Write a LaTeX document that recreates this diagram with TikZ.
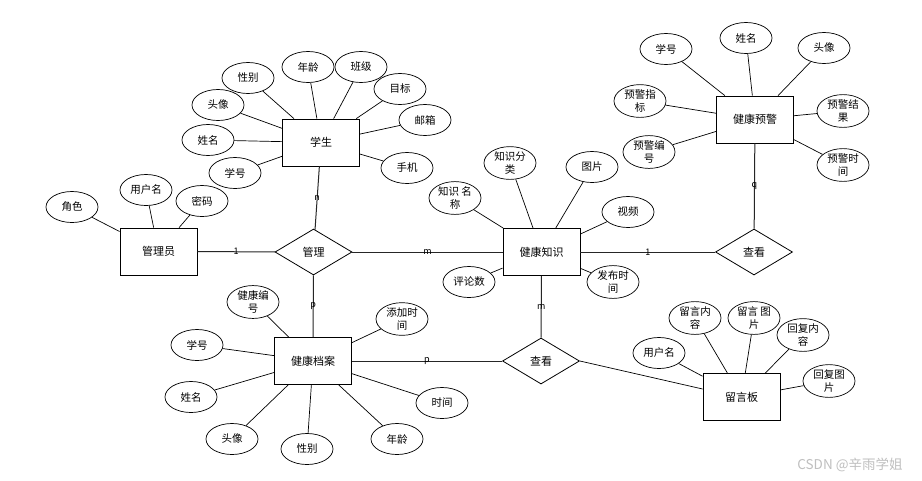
\documentclass[tikz,border=0pt]{standalone}
\usepackage{fontspec}
\setmainfont{Noto Sans CJK SC}
\usetikzlibrary{shapes.geometric}
\tikzset{
  ent/.style={draw, line width=0.8pt, rectangle, minimum width=77pt, minimum height=47pt, inner sep=0pt, font=\fontsize{11}{12}\selectfont},
  rel/.style={draw, line width=0.8pt, diamond, minimum width=77pt, minimum height=46pt, inner sep=0pt, font=\fontsize{11}{12}\selectfont},
  att/.style={draw, line width=0.7pt, ellipse, minimum width=52pt, minimum height=31pt, inner sep=0pt, align=center, font=\fontsize{10.5}{13.5}\selectfont},
  al/.style={line width=0.7pt},
  rl/.style={line width=1pt, draw=black!85},
  lbl/.style={inner sep=0pt, font=\fontsize{9}{10}\selectfont}
}
\begin{document}
\begin{tikzpicture}[x=1pt,y=-1pt]
\path[use as bounding box, fill=white] (0,0) rectangle (922,480);

% entities
\node[ent] (xs) at (321,142.5) {学生};
\node[ent] (gly) at (158.5,251.5) {管理员};
\node[ent] (jkzs) at (541.5,252) {健康知识};
\node[ent] (jkyj) at (755,119.5) {健康预警};
\node[ent] (jkda) at (313,361) {健康档案};
\node[ent] (lyb) at (741.5,397) {留言板};

% relationships
\node[rel] (gl) at (313.5,252) {管理};
\node[rel] (ck1) at (754,252) {查看};
\node[rel] (ck2) at (541,361) {查看};

% student attributes
\node[att] (s1) at (248,78) {性别};
\node[att] (s2) at (308,67) {年龄};
\node[att] (s3) at (361,67) {班级};
\node[att] (s4) at (400,89) {目标};
\node[att] (s5) at (425,120) {邮箱};
\node[att] (s6) at (407,168) {手机};
\node[att] (s7) at (218,105) {头像};
\node[att] (s8) at (208,140) {姓名};
\node[att] (s9) at (235,173) {学号};
\foreach \a in {s1,s2,s3,s4,s5,s6,s7,s8,s9} \draw[al] (\a) -- (xs);

% admin attributes
\node[att] (g1) at (146,190) {用户名};
\node[att] (g2) at (202,201) {密码};
\node[att] (g3) at (72,207) {角色};
\foreach \a in {g1,g2,g3} \draw[al] (\a) -- (gly);

% knowledge attributes
\node[att] (k1) at (510,163) {知识分\\类};
\node[att] (k2) at (592,167) {图片};
\node[att] (k3) at (455,198) {知识 名\\称};
\node[att] (k4) at (628,212) {视频};
\node[att] (k5) at (469,282) {评论数};
\node[att] (k6) at (613,282) {发布时\\间};
\foreach \a in {k1,k2,k3,k4,k5,k6} \draw[al] (\a) -- (jkzs);

% warning attributes
\node[att] (w1) at (666,49) {学号};
\node[att] (w2) at (746,38) {姓名};
\node[att] (w3) at (824,48) {头像};
\node[att] (w4) at (640,101) {预警指\\标};
\node[att] (w5) at (649,152) {预警编\\号};
\node[att] (w6) at (843,111) {预警结\\果};
\node[att] (w7) at (843,165) {预警时\\间};
\foreach \a in {w1,w2,w3,w4,w5,w6,w7} \draw[al] (\a) -- (jkyj);

% record attributes
\node[att] (d1) at (253,302) {健康编\\号};
\node[att] (d2) at (197,345) {学号};
\node[att] (d3) at (402,319) {添加时\\间};
\node[att] (d4) at (191,397) {姓名};
\node[att] (d5) at (442,403) {时间};
\node[att] (d6) at (232,439) {头像};
\node[att] (d7) at (307,449) {性别};
\node[att] (d8) at (397,439) {年龄};
\foreach \a in {d1,d2,d3,d4,d5,d6,d7,d8} \draw[al] (\a) -- (jkda);

% board attributes
\node[att] (b1) at (659,353) {用户名};
\node[att] (b2) at (695,318) {留言内\\容};
\node[att] (b3) at (754,318) {留言 图\\片};
\node[att] (b4) at (803,335) {回复内\\容};
\node[att] (b5) at (829,381) {回复图\\片};
\foreach \a in {b1,b2,b3,b4,b5} \draw[al] (\a) -- (lyb);

% relationship connectors
\draw[rl] (gly) -- node[lbl] (l1) {1} (gl);
\draw[rl] (gl) -- node[lbl] (l2) {m} (jkzs);
\draw[rl] (xs) -- node[lbl] (l3) {n} (gl);
\draw[rl] (gl) -- node[lbl] (l4) {p} (jkda);
\draw[rl] (jkzs) -- node[lbl] (l5) {1} (ck1);
\draw[rl] (jkyj) -- node[lbl] (l6) {q} (ck1);
\draw[rl] (jkzs) -- node[lbl] (l7) {m} (ck2);
\draw[rl] (jkda) -- node[lbl] (l8) {p} (ck2);
\draw[al] (ck2.east) -- (lyb.west |- 0,389);

% watermark
\node[text=black!25, font=\fontsize{13.5}{14}\selectfont, inner sep=0pt] (wm) at (850,465) {CSDN @辛雨学姐};
\end{tikzpicture}
\end{document}
